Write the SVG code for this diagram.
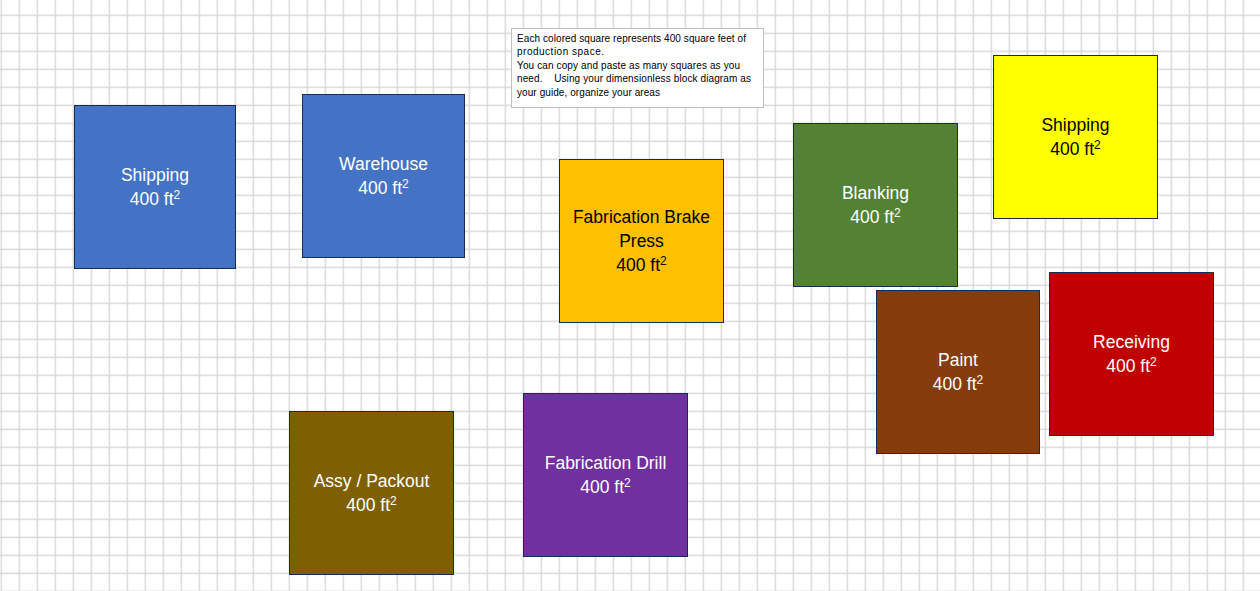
<svg xmlns="http://www.w3.org/2000/svg" width="1260" height="591" viewBox="0 0 1260 591">
  <defs>
    <pattern id="grid" patternUnits="userSpaceOnUse" x="0.65" y="14.65" width="18" height="18">
      <path d="M0.65 0V18M0 0.65H18" stroke="#d4d4d4" stroke-width="1.3" fill="none"/>
    </pattern>
  </defs>
  <style>
    .sq { stroke: #172c51; stroke-width: 1; }
    .lbl { font-family: "Liberation Sans", Arial, sans-serif; font-size: 17.5px; text-anchor: middle; }
    .w { fill: #ffffff; }
    .k { fill: #000000; }
    .sup { font-size: 12px; }
    .note { font-family: "Liberation Sans", Arial, sans-serif; font-size: 10px; fill: #000000; }
  </style>
  <rect x="0" y="0" width="1260" height="591" fill="#ffffff"/>
  <rect x="0" y="0" width="1260" height="591" fill="url(#grid)"/>

  <g id="note">
    <rect x="511.5" y="28.5" width="252" height="79" fill="#ffffff" stroke="#bfbfbf" stroke-width="1"/>
    <text class="note" x="517" y="42" textLength="229" lengthAdjust="spacing">Each colored square represents 400 square feet of</text>
    <text class="note" x="517" y="55.4" textLength="87" lengthAdjust="spacing">production space.</text>
    <text class="note" x="517" y="68.8" textLength="223" lengthAdjust="spacing">You can copy and paste as many squares as you</text>
    <text class="note" x="517" y="82.2" xml:space="preserve" style="white-space:pre" textLength="234" lengthAdjust="spacing">need.    Using your dimensionless block diagram as</text>
    <text class="note" x="517" y="95.6" textLength="143" lengthAdjust="spacing">your guide, organize your areas</text>
  </g>

  <g id="shipping-left">
    <rect class="sq" x="74.5" y="105.5" width="161" height="163" fill="#4472c4"/>
    <text class="lbl w" x="155" y="181">Shipping</text>
    <text class="lbl w" x="155" y="205">400 ft<tspan class="sup" dy="-6">2</tspan></text>
  </g>

  <g id="warehouse">
    <rect class="sq" x="302.5" y="94.5" width="162" height="163" fill="#4472c4"/>
    <text class="lbl w" x="383.5" y="170">Warehouse</text>
    <text class="lbl w" x="383.5" y="194">400 ft<tspan class="sup" dy="-6">2</tspan></text>
  </g>

  <g id="fabrication-brake-press">
    <rect class="sq" x="559.5" y="159.5" width="164" height="163" fill="#ffc000"/>
    <text class="lbl k" x="641.5" y="223">Fabrication Brake</text>
    <text class="lbl k" x="641.5" y="247">Press</text>
    <text class="lbl k" x="641.5" y="271">400 ft<tspan class="sup" dy="-6">2</tspan></text>
  </g>

  <g id="blanking">
    <rect class="sq" x="793.5" y="123.5" width="164" height="163" fill="#548235"/>
    <text class="lbl w" x="875.5" y="199">Blanking</text>
    <text class="lbl w" x="875.5" y="223">400 ft<tspan class="sup" dy="-6">2</tspan></text>
  </g>

  <g id="shipping-right">
    <rect class="sq" x="993.5" y="55.5" width="164" height="163" fill="#ffff00"/>
    <text class="lbl k" x="1075.5" y="131">Shipping</text>
    <text class="lbl k" x="1075.5" y="155">400 ft<tspan class="sup" dy="-6">2</tspan></text>
  </g>

  <g id="paint">
    <rect class="sq" x="876.5" y="290.5" width="163" height="163" fill="#843c0c"/>
    <text class="lbl w" x="958" y="366">Paint</text>
    <text class="lbl w" x="958" y="390">400 ft<tspan class="sup" dy="-6">2</tspan></text>
  </g>

  <g id="receiving">
    <rect class="sq" x="1049.5" y="272.5" width="164" height="163" fill="#c00000"/>
    <text class="lbl w" x="1131.5" y="348">Receiving</text>
    <text class="lbl w" x="1131.5" y="372">400 ft<tspan class="sup" dy="-6">2</tspan></text>
  </g>

  <g id="assy-packout">
    <rect class="sq" x="289.5" y="411.5" width="164" height="163" fill="#7f6000"/>
    <text class="lbl w" x="371.5" y="487">Assy / Packout</text>
    <text class="lbl w" x="371.5" y="511">400 ft<tspan class="sup" dy="-6">2</tspan></text>
  </g>

  <g id="fabrication-drill">
    <rect class="sq" x="523.5" y="393.5" width="164" height="163" fill="#7030a0"/>
    <text class="lbl w" x="605.5" y="469">Fabrication Drill</text>
    <text class="lbl w" x="605.5" y="493">400 ft<tspan class="sup" dy="-6">2</tspan></text>
  </g>

  <g id="connectors"></g>
</svg>
